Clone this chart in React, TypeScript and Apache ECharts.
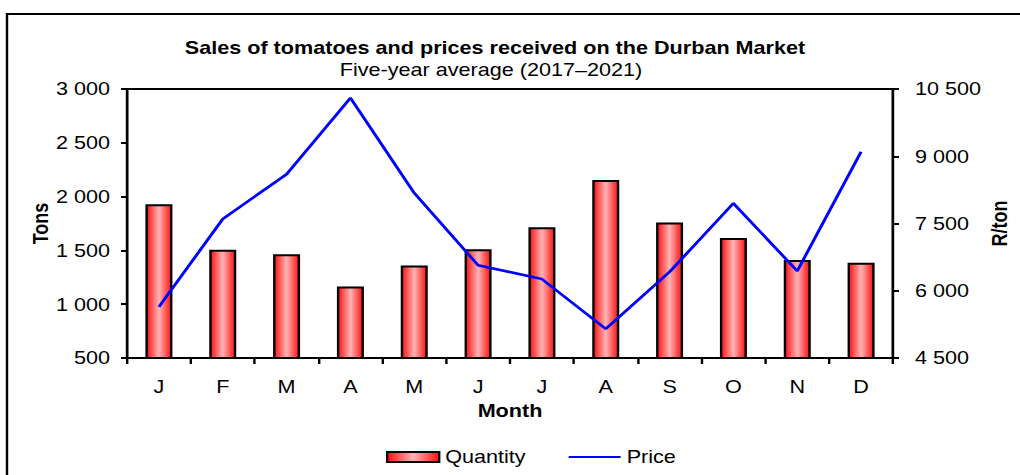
import React, { useEffect, useRef } from "react";
import * as echarts from "echarts";

const months = ["J", "F", "M", "A", "M", "J", "J", "A", "S", "O", "N", "D"];
const quantityTons = [1930, 1505, 1465, 1165, 1360, 1510, 1715, 2155, 1760, 1615, 1410, 1385];
const priceRandPerTon = [5640, 7600, 8600, 10300, 8180, 6570, 6260, 5150, 6420, 7950, 6440, 9100];
const leftTicks = { min: 500, max: 3000, interval: 500 };
const rightTicks = { min: 4500, max: 10500, interval: 1500 };

const FONT = "'Liberation Sans', Arial, sans-serif";
const SX = 1.2; // horizontal stretch of the reference picture
const W = 1020 / SX;
const px = (v: number) => v / SX;
const fmt = (v: number) => String(v).replace(/\B(?=(\d{3})+(?!\d))/g, " ");

export default function App() {
  const ref = useRef<HTMLDivElement>(null);
  useEffect(() => {
    if (!ref.current) return;
    const chart = echarts.init(ref.current, null, { renderer: "svg" });
    const barGradient = new echarts.graphic.LinearGradient(0, 0, 1, 0, [
      { offset: 0, color: "#ff1010" },
      { offset: 0.5, color: "#ffb4b4" },
      { offset: 1, color: "#ff1010" },
    ]);
    const lbl = { fontFamily: FONT, fontSize: 18, color: "#000" };
    const nameLbl = { fontFamily: FONT, fontSize: 18, fontWeight: "bold", color: "#000" };
    chart.setOption({
      animation: false,
      textStyle: { fontFamily: FONT, color: "#000" },
      title: [
        {
          text: "Sales of tomatoes and prices received on the Durban Market",
          left: px(489),
          textAlign: "center",
          top: 34,
          textStyle: { fontFamily: FONT, fontSize: 18, fontWeight: "bold", color: "#000" },
        },
        {
          text: "Five-year average (2017–2021)",
          left: px(485),
          textAlign: "center",
          top: 56,
          textStyle: { fontFamily: FONT, fontSize: 18, fontWeight: "normal", color: "#000" },
        },
      ],
      graphic: [
        {
          type: "rect",
          shape: { x: px(7), y: 14, width: px(1040), height: 500 },
          style: { fill: "none", stroke: "#000", lineWidth: 2 },
          silent: true,
        },
      ],
      legend: {
        left: px(380),
        top: 443,
        itemWidth: px(52),
        itemHeight: 10,
        itemGap: px(43),
        textStyle: { fontFamily: FONT, fontSize: 18, color: "#000" },
        data: [
          { name: "Quantity", icon: "rect" },
          { name: "Price", icon: "path://M0,0L50,0L50,2.5L0,2.5Z" },
        ],
      },
      grid: {
        left: px(127),
        right: px(127),
        top: 89,
        bottom: 117,
        outerBoundsMode: "none",
        show: true,
        borderColor: "#000",
        borderWidth: 2,
        backgroundColor: "#fff",
      },
      xAxis: {
        type: "category",
        data: months,
        name: "Month",
        nameLocation: "middle",
        nameGap: 44,
        nameMoveOverlap: false,
        nameTextStyle: nameLbl,
        axisLine: { lineStyle: { color: "#000", width: 2 } },
        axisTick: { show: true, length: 6, lineStyle: { color: "#000", width: 2 } },
        axisLabel: { ...lbl, margin: 20 },
      },
      yAxis: [
        {
          type: "value",
          min: leftTicks.min,
          max: leftTicks.max,
          interval: leftTicks.interval,
          name: "Tons",
          nameLocation: "middle",
          nameRotate: 90,
          nameGap: px(76),
          nameMoveOverlap: false,
          nameTextStyle: nameLbl,
          axisLine: { show: true, lineStyle: { color: "#000", width: 2 } },
          axisTick: { show: true, length: 5, lineStyle: { color: "#000", width: 2 } },
          axisLabel: { ...lbl, margin: px(17), formatter: fmt },
          splitLine: { show: false },
        },
        {
          type: "value",
          min: rightTicks.min,
          max: rightTicks.max,
          interval: rightTicks.interval,
          name: "R/ton",
          nameLocation: "middle",
          nameRotate: 90,
          nameGap: px(96),
          nameMoveOverlap: false,
          nameTextStyle: nameLbl,
          axisLine: { show: true, lineStyle: { color: "#000", width: 2 } },
          axisTick: { show: true, length: 5, lineStyle: { color: "#000", width: 2 } },
          axisLabel: { ...lbl, margin: px(22), formatter: fmt },
          splitLine: { show: false },
        },
      ],
      series: [
        {
          name: "Quantity",
          type: "bar",
          data: quantityTons,
          barWidth: px(27),
          itemStyle: { color: barGradient, borderColor: "#000", borderWidth: 2 },
        },
        {
          name: "Price",
          type: "line",
          yAxisIndex: 1,
          data: priceRandPerTon,
          showSymbol: false,
          symbol: "none",
          lineStyle: { color: "#0000ff", width: 2.6 },
          itemStyle: { color: "#0000ff" },
        },
      ],
    });
    return () => chart.dispose();
  }, []);
  return (
    <div style={{ position: "fixed", left: 0, top: 0, width: 1020, height: 475, background: "#fff", overflow: "hidden" }}>
      <div
        ref={ref}
        style={{ width: W, height: 475, transform: `scaleX(${SX})`, transformOrigin: "0 0" }}
      />
    </div>
  );
}
